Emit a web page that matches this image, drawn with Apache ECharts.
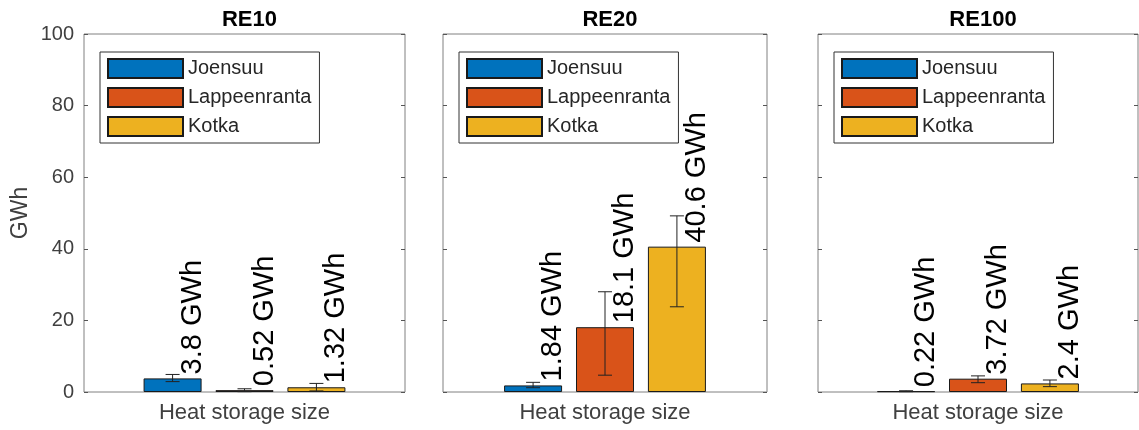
<!DOCTYPE html>
<html>
<head>
<meta charset="utf-8">
<script src="https://cdn.jsdelivr.net/npm/echarts@6/dist/echarts.min.js"></script>
<style>
  html, body { margin: 0; padding: 0; background: #fff; }
  #chart { width: 1139px; height: 430px; }
</style>
</head>
<body>
<div id="chart"></div>
<script>
const scenarios = ['RE10', 'RE20', 'RE100'];
const cities = ['Joensuu', 'Lappeenranta', 'Kotka'];
const category = ['Heat storage size'];
const yTicks = [0, 20, 40, 60, 80, 100];

// heat storage size (GWh), one value per city
const re10 = [3.8, 0.52, 1.32];
const re20 = [1.84, 18.1, 40.6];
const re100 = [0.22, 3.72, 2.4];

// error bar ends (GWh)
const re10Low = [2.9, 0.1, 0.3];
const re10High = [4.9, 0.9, 2.4];
const re20Low = [1.2, 4.7, 23.8];
const re20High = [2.7, 28.0, 49.2];
const re100Low = [0.1, 2.6, 1.5];
const re100High = [0.35, 4.5, 3.35];

const values = [re10, re20, re100];
const lows = [re10Low, re20Low, re100Low];
const highs = [re10High, re20High, re100High];

const colors = ['#0072BD', '#D95319', '#EDB120'];
const font = '"Liberation Sans", Arial, sans-serif';
const barW = 58;
const gapRatio = 0.24;

const grids = [
  { left: 84, top: 34, width: 321, height: 358 },
  { left: 443, top: 34, width: 324, height: 358 },
  { left: 818, top: 34, width: 320, height: 358 }
];

const chart = echarts.init(document.getElementById('chart'));

const xAxis = [];
const yAxis = [];
const series = [];
const title = [];
const legend = [];

grids.forEach((g, p) => {
  title.push({
    text: scenarios[p],
    left: g.left + g.width / 2,
    top: 4,
    textAlign: 'center',
    textStyle: { fontFamily: font, fontSize: 22, fontWeight: 'bold', color: '#000' }
  });

  legend.push({
    data: cities,
    orient: 'vertical',
    left: g.left + 16,
    top: 52,
    icon: 'rect',
    itemWidth: 75,
    itemHeight: 19,
    itemGap: 8,
    padding: [6, 8, 6, 7],
    borderColor: '#333',
    borderWidth: 1,
    backgroundColor: '#fff',
    selectedMode: false,
    textStyle: { fontFamily: font, fontSize: 20, color: '#262626' }
  });

  xAxis.push({
    gridIndex: p,
    type: 'category',
    data: category,
    axisLine: { show: false },
    axisTick: { show: false },
    axisLabel: { margin: 10, fontFamily: font, fontSize: 22, color: '#404040' }
  });

  yAxis.push({
    gridIndex: p,
    type: 'value',
    min: yTicks[0],
    max: yTicks[yTicks.length - 1],
    interval: 20,
    name: p === 0 ? 'GWh' : '',
    nameLocation: 'middle',
    nameGap: 52,
    nameTextStyle: { fontFamily: font, fontSize: 23, color: '#404040' },
    axisLine: { show: false },
    axisTick: { show: true, inside: true, length: 4, lineStyle: { color: '#555' } },
    axisLabel: { show: p === 0, margin: 10, fontFamily: font, fontSize: 20, color: '#404040' },
    splitLine: { show: false }
  });
  yAxis.push({
    gridIndex: p,
    type: 'value',
    position: 'right',
    min: yTicks[0],
    max: yTicks[yTicks.length - 1],
    interval: 20,
    axisLine: { show: false },
    axisTick: { show: true, inside: true, length: 4, lineStyle: { color: '#555' } },
    axisLabel: { show: false },
    splitLine: { show: false }
  });

  cities.forEach((c, k) => {
    series.push({
      type: 'bar',
      name: c,
      xAxisIndex: p,
      yAxisIndex: 2 * p,
      data: [values[p][k]],
      barWidth: barW,
      barGap: (gapRatio * 100) + '%',
      itemStyle: { color: colors[k], borderColor: '#1a1a1a', borderWidth: 1 },
      emphasis: { disabled: true },
      z: 2
    });
  });

  // error bars and rotated value labels
  series.push({
    type: 'custom',
    xAxisIndex: p,
    yAxisIndex: 2 * p,
    silent: true,
    z: 4,
    data: cities.map((c, k) => [0, values[p][k], lows[p][k], highs[p][k], k]),
    renderItem: (params, api) => {
      const k = api.value(4);
      const step = barW * (1 + gapRatio);
      const dx = (k - 1) * step;
      const top = api.coord([0, api.value(1)]);
      const lo = api.coord([0, api.value(2)]);
      const hi = api.coord([0, api.value(3)]);
      const x = top[0] + dx;
      const cap = 7;
      const ls = { stroke: '#222', lineWidth: 1 };
      return {
        type: 'group',
        children: [
          { type: 'line', shape: { x1: x, y1: lo[1], x2: x, y2: hi[1] }, style: ls },
          { type: 'line', shape: { x1: x - cap, y1: lo[1], x2: x + cap, y2: lo[1] }, style: ls },
          { type: 'line', shape: { x1: x - cap, y1: hi[1], x2: x + cap, y2: hi[1] }, style: ls },
          {
            type: 'text',
            x: x + 20,
            y: top[1] - 4,
            rotation: Math.PI / 2,
            style: {
              text: api.value(1) + ' GWh',
              align: 'left',
              verticalAlign: 'middle',
              fontFamily: font,
              fontSize: 29,
              fill: '#000'
            }
          }
        ]
      };
    }
  });
});

chart.setOption({
  animation: false,
  backgroundColor: '#fff',
  title: title,
  legend: legend,
  grid: grids.map(g => Object.assign({ show: true, borderColor: '#808080', borderWidth: 1, backgroundColor: 'transparent' }, g)),
  xAxis: xAxis,
  yAxis: yAxis,
  series: series
});
</script>
</body>
</html>
